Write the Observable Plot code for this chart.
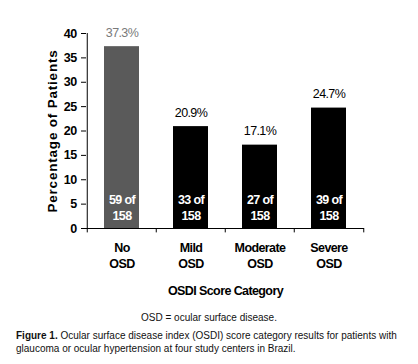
<!DOCTYPE html>
<html><head><meta charset="utf-8">
<script src="https://cdn.jsdelivr.net/npm/d3@7"></script>
<script src="https://cdn.jsdelivr.net/npm/@observablehq/plot@0.6"></script>
<style>
body{margin:0;background:#fff;width:418px;}
#cap1{font:10px "Liberation Sans",Arial,sans-serif;text-align:center;margin-top:12px;color:#111;}
#cap2{font:10px "Liberation Sans",Arial,sans-serif;margin:6px 0 0 16px;line-height:13px;color:#111;}
svg text{letter-spacing:-0.6px;}
svg .ylab text{letter-spacing:0.8px;}
</style></head><body>
<div id="chart"></div>
<div id="cap1">OSD = ocular surface disease.</div>
<div id="cap2"><b>Figure 1.</b> Ocular surface disease index (OSDI) score category results for patients with glaucoma or ocular hypertension at four study centers in Brazil.</div>
<script>
const categories = ["No\nOSD", "Mild\nOSD", "Moderate\nOSD", "Severe\nOSD"];
const values = [37.3, 20.9, 17.1, 24.7];
const counts = ["59 of\n158", "33 of\n158", "27 of\n158", "39 of\n158"];
const yTicks = [0, 5, 10, 15, 20, 25, 30, 35, 40];

const data = categories.map((c, i) => ({cat: c, value: values[i], count: counts[i], first: i === 0}));
const font = '"Liberation Sans Narrow","Arial Narrow","Liberation Sans",Arial,sans-serif';
const W = 418, mL = 86, mR = 54;
const band = (W - mL - mR) / categories.length;

const chart = Plot.plot({
  width: W, height: 300,
  marginLeft: mL, marginRight: mR, marginTop: 33, marginBottom: 72,
  style: {fontFamily: font, fontSize: "12.5px", color: "#000", background: "#fff"},
  x: {domain: categories, paddingInner: 0.5, paddingOuter: 0.25, label: null},
  y: {domain: [0, 40], ticks: yTicks, label: null},
  marks: [
    Plot.barY(data, {x: "cat", y: "value", fill: d => d.first ? "#5a5a5a" : "#000"}),
    Plot.text(data, {x: "cat", y: "value", text: d => d.value.toFixed(1) + "%", lineAnchor: "bottom", dy: -10, fill: d => d.first ? "#7a7a7a" : "#000", fontSize: 12.5}),
    Plot.text(data, {x: "cat", y: 0, text: "count", lineAnchor: "bottom", dy: -9, fill: "#fff", fontWeight: "bold", fontSize: 12.5, lineHeight: 1.28}),
    Plot.ruleY([0], {stroke: "#000"}),
    Plot.ruleX(data, {x: "cat", dx: -band / 2, y1: 0, y2: -0.9, stroke: "#000"}),
    Plot.ruleX(data.slice(-1), {x: "cat", dx: band / 2, y1: 0, y2: -0.9, stroke: "#000"}),
    Plot.ruleX(data.slice(0, 1), {x: "cat", dx: -band / 2, y1: 0, y2: 40, stroke: "#000"}),
    Plot.axisY({ticks: yTicks, tickSize: 5, tickPadding: 5, fontWeight: "bold", fontSize: 12.5, label: null}),
    Plot.axisX({tickSize: 0, tickPadding: 12, fontWeight: "bold", fontSize: 12.5, lineHeight: 1.3, label: null}),
    Plot.text(["Percentage of Patients"], {frameAnchor: "left", textAnchor: "middle", rotate: -90, dx: -34, fontFamily: '"Liberation Sans",Arial,sans-serif', fontWeight: "bold", fontSize: 13.5, className: "ylab"}),
    Plot.text(["OSDI Score Category"], {frameAnchor: "bottom", dy: 66, fontWeight: "bold", fontSize: 12.5})
  ]
});
document.getElementById("chart").appendChild(chart);
</script>
</body></html>
